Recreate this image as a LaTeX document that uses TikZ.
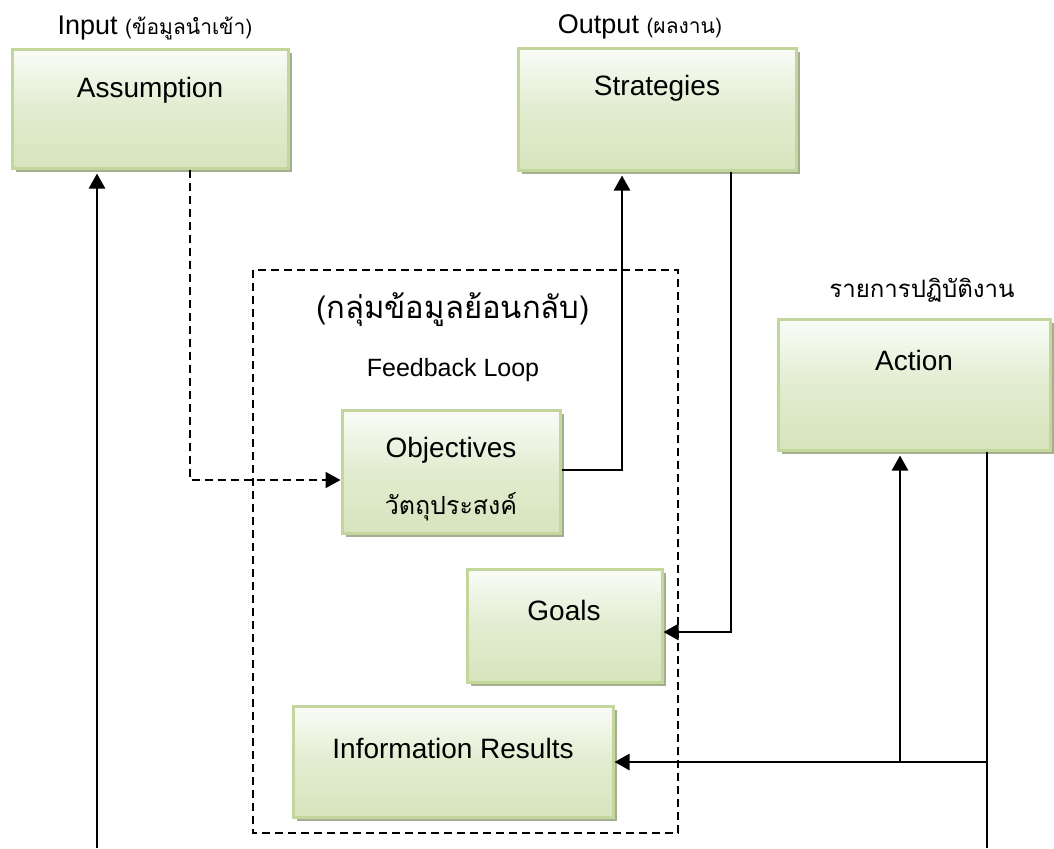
\documentclass[tikz,border=0pt]{standalone}
\usepackage{fontspec}
\setmainfont{Liberation Sans}
\newfontfamily\thaifont[Script=Thai]{Loma}
\usepackage{tikz}
\usetikzlibrary{arrows.meta,positioning,calc,shadows}
\definecolor{boxedge}{RGB}{195,214,155}
\definecolor{boxtop}{RGB}{250,252,247}
\definecolor{boxmid}{RGB}{226,236,208}
\definecolor{boxbot}{RGB}{215,228,189}
\definecolor{boxshade}{RGB}{166,174,146}
\tikzset{
  gbox/.style={draw=boxedge, line width=1.5pt, inner sep=0pt,
    top color=boxtop, bottom color=boxbot, middle color=boxmid,
    drop shadow={shadow xshift=2pt, shadow yshift=-2pt, fill=boxshade, opacity=1}},
  blab/.style={font=\fontsize{14}{16}\selectfont},
  tlab/.style={font=\thaifont\fontsize{12.5}{15}\selectfont},
  hlab/.style={font=\fontsize{13.5}{16}\selectfont},
  arr/.style={-{Triangle[length=7.5pt,width=8pt]}, line width=1.3pt},
  dsh/.style={-{Triangle[length=7.5pt,width=8pt]}, line width=1pt, dash pattern=on 4pt off 2.5pt},
  grp/.style={line width=0.8pt, dash pattern=on 4pt off 2.5pt},
}
\begin{document}
\begin{tikzpicture}[x=0.5pt, y=-0.5pt]
  \useasboundingbox (0,0) rectangle (1054,848);
  % feedback group
  \draw[grp] (253,270) rectangle (678,833);
  \node[font=\thaifont\fontsize{15.5}{18}\selectfont] (fbth) at (453,310) {(กลุ่มข้อมูลย้อนกลับ)};
  \node[font=\fontsize{12.5}{15}\selectfont] (fbtxt) at (453,370) {Feedback Loop};
  % boxes
  \node[gbox, minimum width=138pt, minimum height=59.5pt] (assum) at (150,108.5) {};
  \node[gbox, minimum width=139pt, minimum height=61pt] (strat) at (657,109) {};
  \node[gbox, minimum width=136pt, minimum height=65.5pt] (action) at (914,384.5) {};
  \node[gbox, minimum width=109pt, minimum height=61.5pt] (obj) at (451,471.5) {};
  \node[gbox, minimum width=97.5pt, minimum height=56.5pt] (goals) at (564.5,625.5) {};
  \node[gbox, minimum width=160pt, minimum height=55.5pt] (info) at (453,761.5) {};
  % texts
  \node[blab] (assumtxt) at (150,90) {Assumption};
  \node[blab] (strattxt) at (657,88) {Strategies};
  \node[blab] (actiontxt) at (914,360) {Action};
  \node[blab] (objtxt) at (451,450) {Objectives};
  \node[tlab] (objth) at (451,507) {วัตถุประสงค์};
  \node[blab] (goalstxt) at (564,610) {Goals};
  \node[blab] (infotxt) at (453,748) {Information Results};
  \node[hlab] (inlab) at (155,28) {Input {\thaifont\fontsize{10.5}{12}\selectfont(ข้อมูลนำเข้า)}};
  \node[hlab] (outlab) at (640,27) {Output {\thaifont\fontsize{10.5}{12}\selectfont(ผลงาน)}};
  \node[font=\thaifont\fontsize{12}{14}\selectfont] (actlab) at (922,290) {รายการปฏิบัติงาน};
  % connectors
  \coordinate (inbot) at (97,848);
  \coordinate (dk) at (190,480);
  \coordinate (ok) at (622,470);
  \coordinate (sk) at (731,632);
  \coordinate (rk) at (987,762);
  \coordinate (rbot) at (987,848);
  \coordinate (ak) at (900,762);
  \draw[arr, shorten >=2pt] (inbot) -- (inbot |- assum.south);
  \draw[dsh] (dk |- assum.south) -- (dk) -- (dk -| obj.west);
  \draw[arr, shorten >=2pt] (ok -| obj.east) -- (ok) -- (ok |- strat.south);
  \draw[arr] (sk |- strat.south) -- (sk) -- (sk -| goals.east);
  \draw[line width=1.3pt] (rk |- action.south) -- (rbot);
  \draw[arr] (rk) -- (rk -| info.east);
  \draw[arr, shorten >=2pt] (ak) -- (ak |- action.south);
\end{tikzpicture}
\end{document}
